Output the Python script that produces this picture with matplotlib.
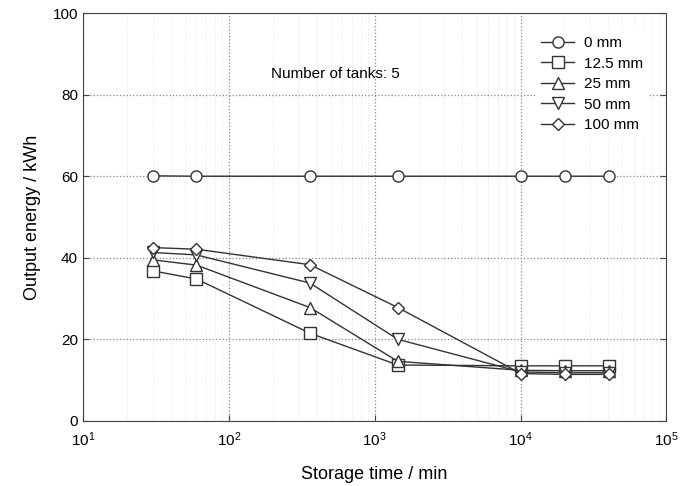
import numpy as np
import matplotlib.pyplot as plt
from matplotlib.ticker import LogLocator, NullFormatter

plt.rcParams['font.family'] = ['Liberation Sans', 'DejaVu Sans']

# storage time in minutes
storage_time = [30, 60, 360, 1440, 10080, 20160, 40320]

# output energy in kWh for each insulation thickness
e_0mm = [60.1, 60.0, 60.0, 60.0, 60.0, 60.0, 60.0]
e_12mm = [36.8, 34.8, 21.5, 13.7, 13.5, 13.5, 13.5]
e_25mm = [39.5, 38.2, 27.8, 14.6, 12.4, 12.3, 12.3]
e_50mm = [41.3, 40.7, 33.8, 20.0, 12.0, 11.8, 11.8]
e_100mm = [42.5, 42.1, 38.3, 27.8, 11.6, 11.4, 11.4]

labels = ['0 mm', '12.5 mm', '25 mm', '50 mm', '100 mm']
markers = ['o', 's', '^', 'v', 'D']
series = [e_0mm, e_12mm, e_25mm, e_50mm, e_100mm]

fig = plt.figure(figsize=(6.8, 4.86), dpi=100)
ax = fig.add_axes([0.122, 0.134, 0.858, 0.839])

for vals, mk, lab in zip(series, markers, labels):
    ms = 6.5 if mk == 'D' else 8
    ax.plot(storage_time, vals, marker=mk, color='#333333', lw=1.0,
            markerfacecolor='white', markeredgecolor='#333333', markersize=ms,
            markeredgewidth=1.0, label=lab)

ax.set_xscale('log')
ax.set_xlim(10, 1e5)
ax.set_ylim(0, 100)
ax.set_yticks([0, 20, 40, 60, 80, 100])
ax.xaxis.set_minor_locator(LogLocator(base=10, subs=np.arange(2, 10), numticks=20))
ax.xaxis.set_minor_formatter(NullFormatter())

ax.grid(True, which='major', linestyle=':', color='#888888', lw=0.9)
ax.grid(True, which='minor', axis='x', linestyle=':', color='#dddddd', lw=0.6)
ax.tick_params(which='major', direction='in', length=4, top=False, right=True,
               labelsize=11, color='#444444')
ax.tick_params(axis='x', which='major', pad=7)
ax.tick_params(which='minor', length=0)
for s in ax.spines.values():
    s.set_color('#444444')

ax.set_xlabel('Storage time / min', fontsize=13, labelpad=12)
ax.set_ylabel('Output energy / kWh', fontsize=13, labelpad=8)

ax.text(535, 85, 'Number of tanks: 5', ha='center', va='center', fontsize=11)

leg = ax.legend(loc='upper right', bbox_to_anchor=(0.97, 0.958), frameon=True,
                fontsize=11, handlelength=2.2, handletextpad=0.6,
                labelspacing=0.42, borderaxespad=0.0)
leg.get_frame().set_edgecolor('none')
leg.get_frame().set_facecolor('white')
leg.get_frame().set_alpha(1.0)

fig.savefig('out.png', dpi=100)
